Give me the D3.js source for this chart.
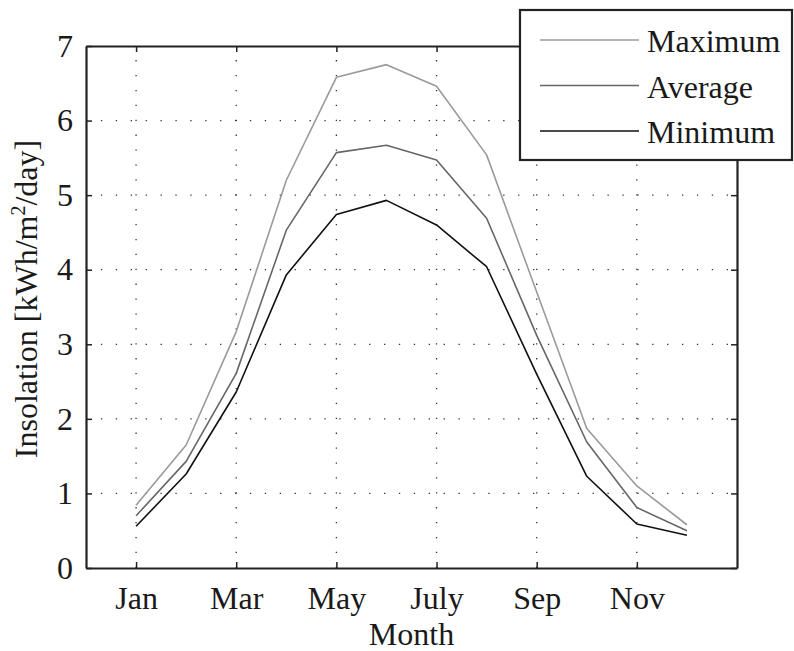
<!DOCTYPE html>
<html>
<head>
<meta charset="utf-8">
<script src="https://cdn.jsdelivr.net/npm/d3@7"></script>
<style>
  body { margin: 0; background: #fff; }
</style>
</head>
<body>
<div id="chart"></div>
<script>
const months = [1, 2, 3, 4, 5, 6, 7, 8, 9, 10, 11, 12];
const maxVals = [0.84, 1.65, 3.17, 5.20, 6.58, 6.75, 6.46, 5.54, 3.70, 1.87, 1.10, 0.58];
const avgVals = [0.70, 1.43, 2.61, 4.53, 5.57, 5.67, 5.47, 4.69, 3.12, 1.69, 0.81, 0.50];
const minVals = [0.56, 1.26, 2.36, 3.93, 4.74, 4.93, 4.60, 4.04, 2.60, 1.23, 0.59, 0.44];
const xTicks = [1, 3, 5, 7, 9, 11];
const xTickLabels = ["Jan", "Mar", "May", "July", "Sep", "Nov"];
const yTicks = [0, 1, 2, 3, 4, 5, 6, 7];
const seriesNames = ["Maximum", "Average", "Minimum"];
const seriesColors = ["#9a9a9a", "#666666", "#111111"];

const W = 794, H = 651;
const mLeft = 86, mRight = 737, mTop = 46, mBottom = 568;
const serif = "Liberation Serif";
const fs = 32;

const svg = d3.select("#chart").append("svg")
    .attr("width", W).attr("height", H);

const x = d3.scaleLinear().domain([0, 13]).range([mLeft, mRight]);
const y = d3.scaleLinear().domain([0, 7]).range([mBottom, mTop]);

// dotted grid
const grid = svg.append("g").attr("stroke", "#333").attr("stroke-width", 1.3)
    .attr("stroke-dasharray", "1.3,13.6");
grid.selectAll(".gx").data(xTicks).enter().append("line")
    .attr("x1", d => x(d)).attr("x2", d => x(d))
    .attr("y1", mBottom).attr("y2", mTop);
grid.selectAll(".gy").data(yTicks.filter(d => d > 0 && d < 7)).enter().append("line")
    .attr("y1", d => y(d)).attr("y2", d => y(d))
    .attr("x1", mLeft).attr("x2", mRight);

// lines
const line = d3.line().x((d, i) => x(months[i])).y(d => y(d));
[maxVals, avgVals, minVals].forEach((vals, k) => {
  svg.append("path").datum(vals)
      .attr("fill", "none")
      .attr("stroke", seriesColors[k])
      .attr("stroke-width", 1.6)
      .attr("stroke-linejoin", "round")
      .attr("d", line);
});

// axes
const xAxis = svg.append("g").attr("transform", `translate(0,${mBottom})`)
    .call(d3.axisBottom(x).tickValues(xTicks).tickFormat((d, i) => xTickLabels[i])
      .tickSizeInner(-6).tickSizeOuter(0).tickPadding(18));
const yAxis = svg.append("g").attr("transform", `translate(${mLeft},0)`)
    .call(d3.axisLeft(y).tickValues(yTicks).tickFormat(d3.format("d"))
      .tickSizeInner(-6).tickSizeOuter(0).tickPadding(13));
const xTop = svg.append("g").attr("transform", `translate(0,${mTop})`)
    .call(d3.axisTop(x).tickValues(xTicks).tickFormat("").tickSizeInner(-6).tickSizeOuter(0));
const yRight = svg.append("g").attr("transform", `translate(${mRight},0)`)
    .call(d3.axisRight(y).tickValues(yTicks).tickFormat("").tickSizeInner(-6).tickSizeOuter(0));

[xAxis, yAxis, xTop, yRight].forEach(g => {
  g.attr("font-family", serif).attr("font-size", fs);
  g.select(".domain").attr("stroke", "#222").attr("stroke-width", 2.2);
  g.selectAll(".tick line").attr("stroke", "#222").attr("stroke-width", 1.5);
  g.selectAll("text").attr("fill", "#1a1a1a");
});

// axis titles
svg.append("text").attr("x", (mLeft + mRight) / 2).attr("y", 645)
    .attr("text-anchor", "middle").attr("font-family", serif).attr("font-size", fs)
    .attr("fill", "#1a1a1a").text("Month");
const yl = svg.append("text")
    .attr("transform", `translate(37,${(mTop + mBottom) / 2 - 8}) rotate(-90)`)
    .attr("text-anchor", "middle").attr("font-family", serif).attr("font-size", fs)
    .attr("fill", "#1a1a1a");
yl.append("tspan").text("Insolation [kWh/m");
yl.append("tspan").attr("font-size", 20).attr("dy", -12).text("2");
yl.append("tspan").attr("dy", 12).text("/day]");

// legend
const lg = svg.append("g");
lg.append("rect").attr("x", 520).attr("y", 10).attr("width", 272).attr("height", 150)
    .attr("fill", "#fff").attr("stroke", "#222").attr("stroke-width", 2.2);
seriesNames.forEach((name, i) => {
  const cy = 40 + i * 45.5;
  lg.append("line").attr("x1", 540).attr("x2", 639).attr("y1", cy).attr("y2", cy)
      .attr("stroke", seriesColors[i]).attr("stroke-width", 1.6);
  lg.append("text").attr("x", 647).attr("y", cy + 12)
      .attr("font-family", serif).attr("font-size", fs).attr("fill", "#1a1a1a").text(name);
});
</script>
</body>
</html>
